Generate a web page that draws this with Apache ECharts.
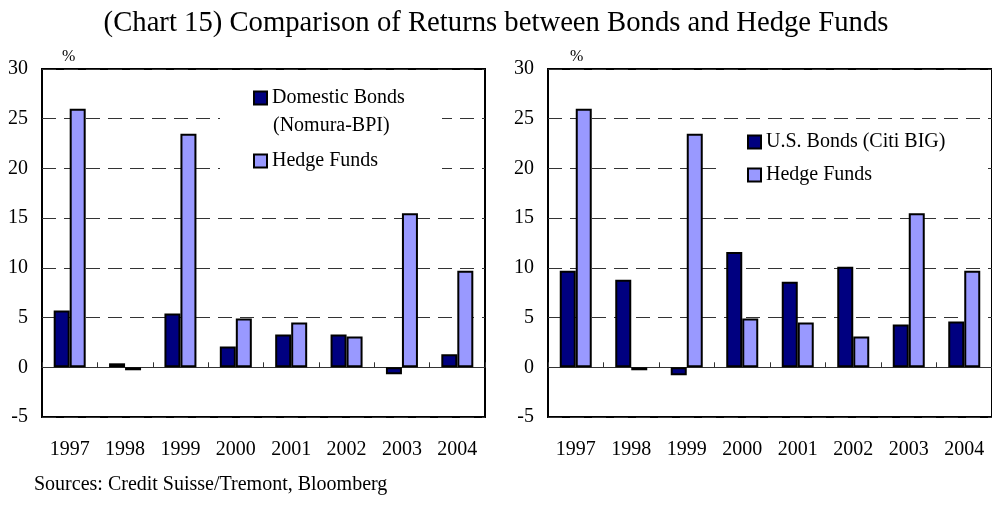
<!DOCTYPE html>
<html>
<head>
<meta charset="utf-8">
<script src="https://cdn.jsdelivr.net/npm/echarts@6/dist/echarts.min.js"></script>
<style>
  html, body { margin: 0; padding: 0; background: #fff; }
  #chart { width: 992px; height: 508px; }
</style>
</head>
<body>
<div id="chart"></div>
<script>
// Annual returns (%), 1997-2004
const years = ['1997', '1998', '1999', '2000', '2001', '2002', '2003', '2004'];
const domesticBonds = [5.7, 0.4, 5.4, 2.1, 3.3, 3.3, -0.7, 1.3];   // Nomura-BPI
const usBonds = [9.7, 8.8, -0.8, 11.6, 8.6, 10.1, 4.3, 4.6];        // Citi BIG
const hedgeFunds = [26.0, -0.3, 23.5, 4.9, 4.5, 3.1, 15.5, 9.7];    // Credit Suisse/Tremont
const yTicks = { min: -5, max: 30, step: 5 };

const SERIF = '"Liberation Serif", "DejaVu Serif", serif';
const NAVY = '#000080';
const LAVENDER = '#9999FF';

const chart = echarts.init(document.getElementById('chart'), null, { renderer: 'canvas' });

const grids = [
  { left: 42, top: 69, width: 443, height: 348 },
  { left: 548, top: 69, width: 450, height: 348 }
];

function yAxisFor(i) {
  return {
    type: 'value', gridIndex: i,
    min: yTicks.min, max: yTicks.max, interval: yTicks.step,
    axisLine: { show: false },
    axisTick: { show: false },
    axisLabel: { color: '#000', fontFamily: SERIF, fontSize: 20, margin: 14 },
    splitLine: { show: true, lineStyle: { color: '#333', width: 1, type: [14, 8] } }
  };
}

function xAxesFor(i) {
  return [
    { // category labels along the bottom of the frame
      type: 'category', gridIndex: i, data: years, position: 'bottom',
      axisLine: { show: false, onZero: false },
      axisTick: { show: false },
      axisLabel: { color: '#000', fontFamily: SERIF, fontSize: 20, margin: 23 }
    },
    { // zero line with small ticks between years
      type: 'category', gridIndex: i, data: years, position: 'bottom',
      axisLine: { show: true, onZero: true, lineStyle: { color: '#333', width: 1.2 } },
      axisTick: { show: true, inside: true, length: 5, lineStyle: { color: '#333', width: 1 } },
      axisLabel: { show: false }
    }
  ];
}

function barSeries(name, data, color, gridIdx) {
  return {
    name, type: 'bar', data,
    xAxisIndex: gridIdx * 2, yAxisIndex: gridIdx,
    barWidth: 16, barGap: '0%',
    itemStyle: { color, borderColor: '#000', borderWidth: 2 },
    emphasis: { disabled: true },
    animation: false
  };
}

function legendItem(name, left, centerY) {
  return {
    data: [name], left, top: centerY - 11,
    orient: 'vertical', padding: 0,
    icon: 'rect', itemWidth: 13, itemHeight: 13, itemGap: 6,
    textStyle: { color: '#000', fontFamily: SERIF, fontSize: 20 },
    selectedMode: false, z: 10
  };
}

chart.setOption({
  animation: false,
  backgroundColor: '#fff',
  title: {
    text: '(Chart 15) Comparison of Returns between Bonds and Hedge Funds',
    left: 'center', top: 4,
    textStyle: { color: '#000', fontFamily: SERIF, fontSize: 28.7, fontWeight: 'normal' }
  },
  grid: grids.map(g => Object.assign({ show: true, borderColor: '#000', borderWidth: 2, backgroundColor: 'transparent', containLabel: false }, g)),
  xAxis: [...xAxesFor(0), ...xAxesFor(1)],
  yAxis: [yAxisFor(0), yAxisFor(1)],
  legend: [
    Object.assign(legendItem('Domestic Bonds (Nomura-BPI)', 253, 99), { formatter: () => 'Domestic Bonds' }),
    legendItem('Hedge Funds', 253, 162),
    legendItem('U.S. Bonds (Citi BIG)', 747, 143),
    legendItem('Hedge Funds', 747, 176)
  ],
  graphic: [
    // white panels behind the legends
    { type: 'rect', shape: { x: 220, y: 82, width: 222, height: 96 }, style: { fill: '#fff' }, z: 5, silent: true },
    { type: 'rect', shape: { x: 717, y: 124, width: 263, height: 62 }, style: { fill: '#fff' }, z: 5, silent: true },
    { type: 'text', left: 273, top: 116, z: 11, style: { text: '(Nomura-BPI)', fill: '#000', font: '20px ' + SERIF } },
    { type: 'text', left: 62, top: 49, z: 11, style: { text: '%', fill: '#000', font: '16px ' + SERIF } },
    { type: 'text', left: 570, top: 49, z: 11, style: { text: '%', fill: '#000', font: '16px ' + SERIF } },
    { type: 'text', left: 34, top: 475, z: 11,
      style: { text: 'Sources: Credit Suisse/Tremont, Bloomberg', fill: '#000', font: '20px ' + SERIF } }
  ],
  series: [
    barSeries('Domestic Bonds (Nomura-BPI)', domesticBonds, NAVY, 0),
    barSeries('Hedge Funds', hedgeFunds, LAVENDER, 0),
    barSeries('U.S. Bonds (Citi BIG)', usBonds, NAVY, 1),
    barSeries('Hedge Funds', hedgeFunds, LAVENDER, 1)
  ]
});
</script>
</body>
</html>
